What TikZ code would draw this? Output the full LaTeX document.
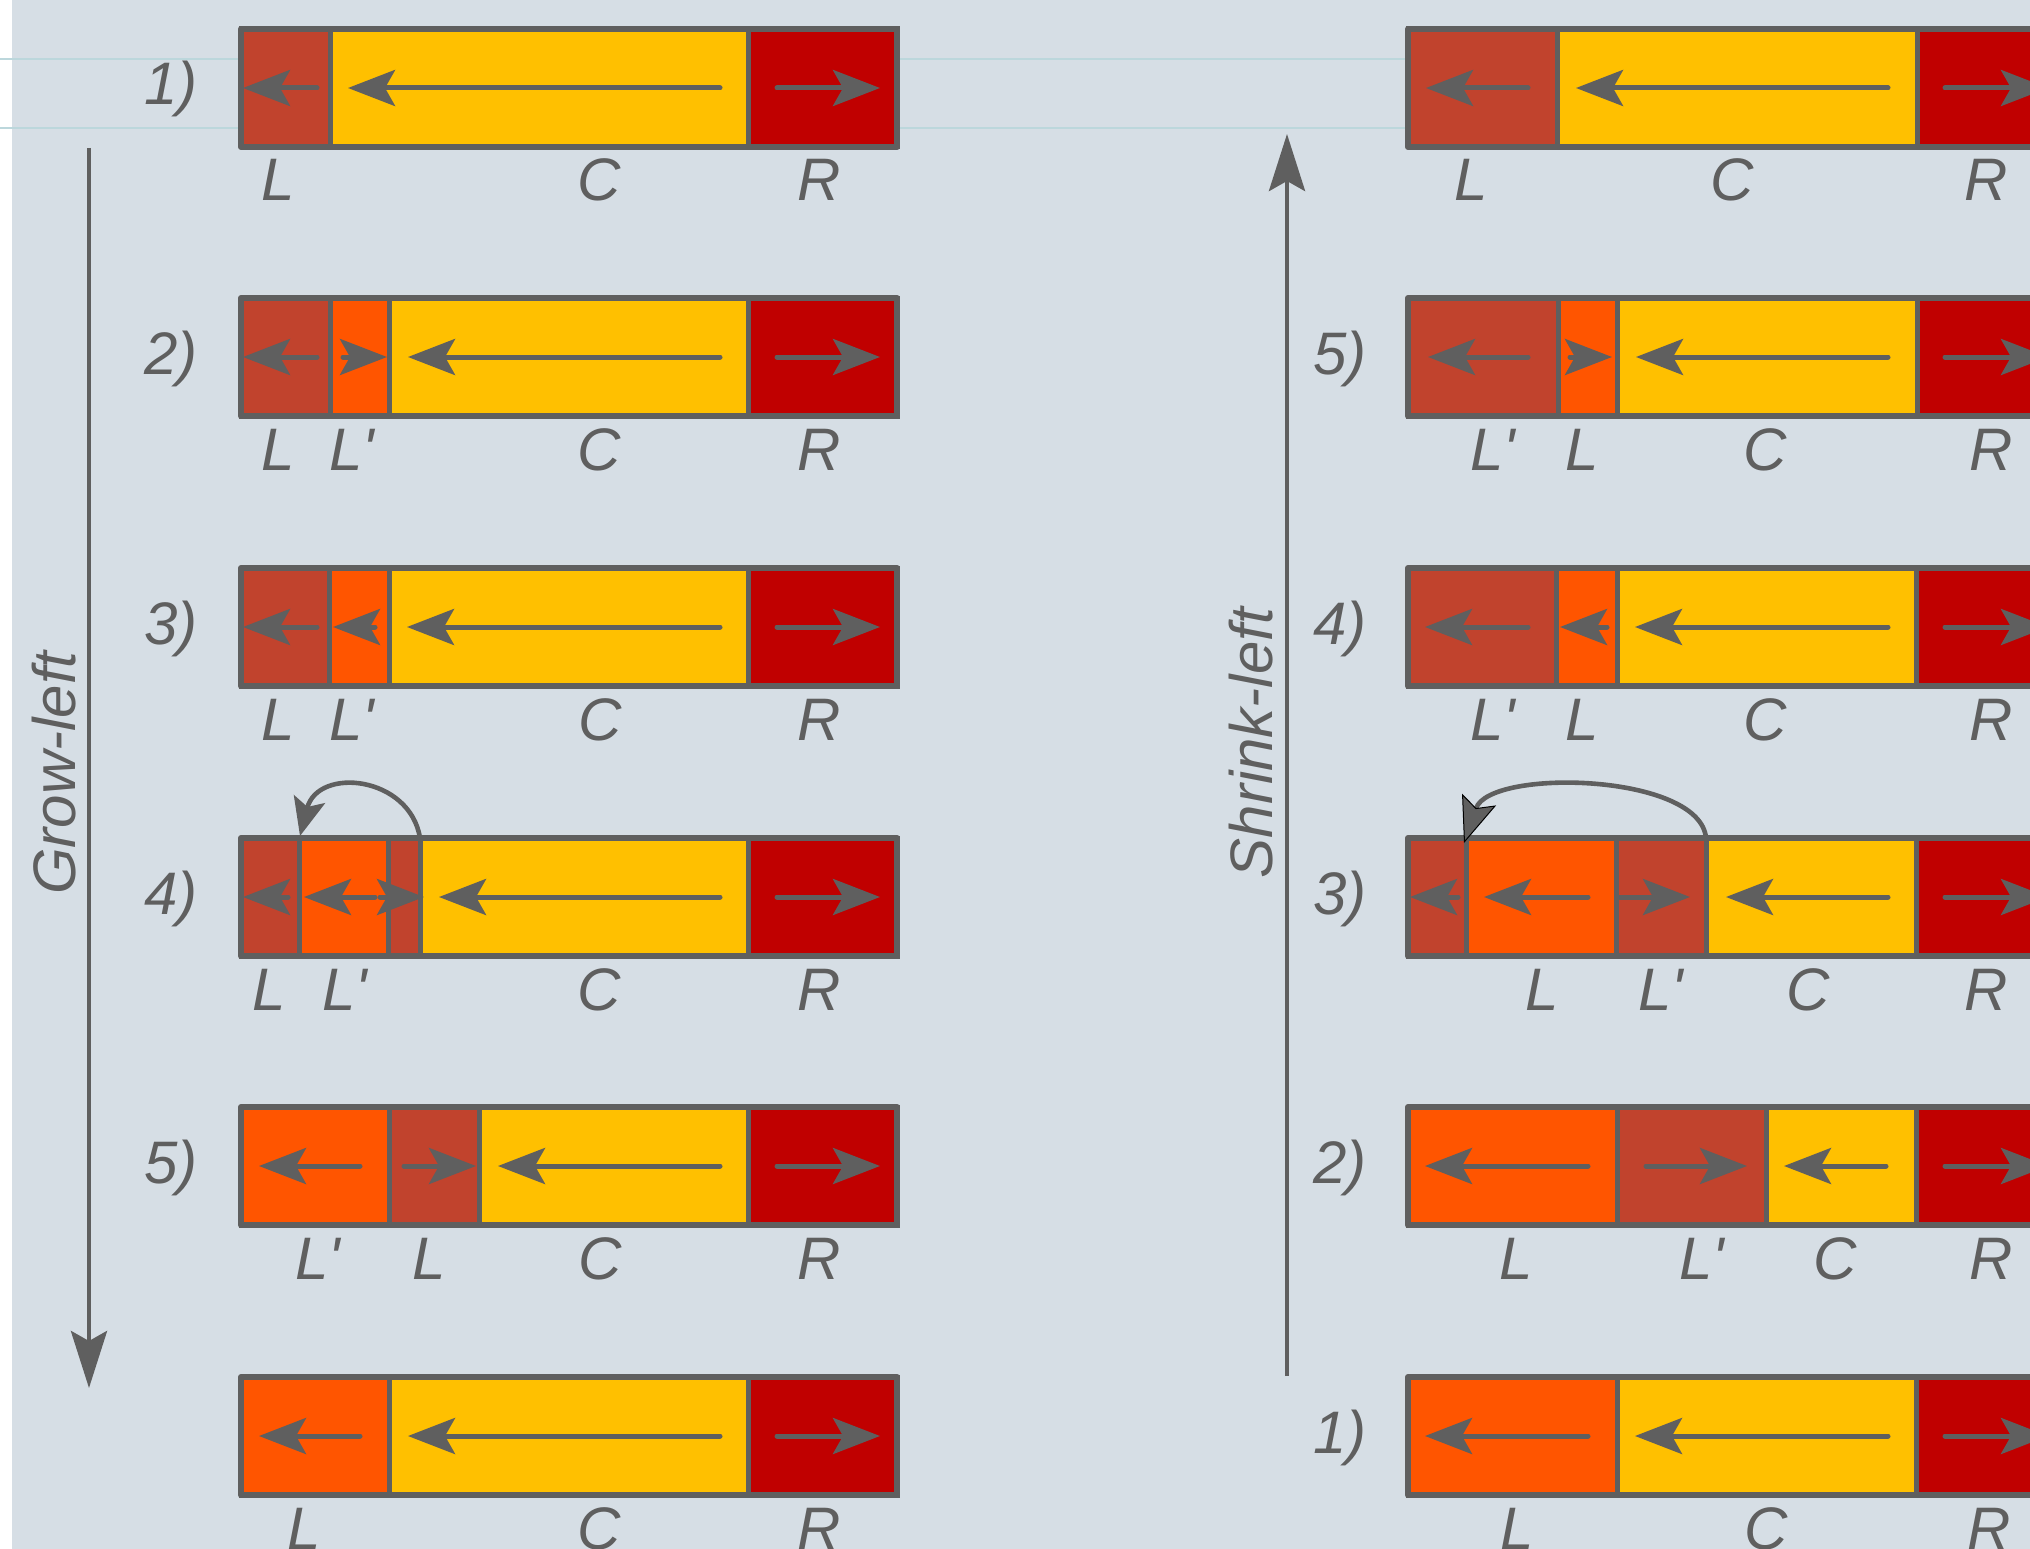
\documentclass[tikz,border=0pt]{standalone}
\usepackage{fontspec}
\setmainfont{Liberation Sans}
\usetikzlibrary{arrows.meta}
\definecolor{bgc}{HTML}{D6DEE5}
\definecolor{lg}{HTML}{5F5F5F}
\definecolor{cL}{HTML}{C1432D}
\definecolor{cO}{HTML}{FF5500}
\definecolor{cY}{HTML}{FFC000}
\definecolor{cR}{HTML}{C00000}
\definecolor{cyl}{HTML}{BCD7DC}
\tikzset{
  seg/.style={draw=lg, line width=5pt},
  outer/.style={draw=lg, line width=6pt, line join=round},
  harr/.style={draw=lg, line width=5pt, line cap=round, -{Stealth[length=47pt,width=36pt,inset=10pt]}},
  varr/.style={draw=lg, line width=4.5pt, -{Stealth[length=57pt,width=36pt,inset=10pt]}},
  lab/.style={text=lg, font=\fontsize{60}{72}\selectfont\itshape, anchor=base, inner sep=0pt},
  curvearr/.style={draw=lg, line width=4.6pt},
}
\newcommand{\frm}[3]{\draw[outer] (#1,#3-59) rectangle (#2,#3+59);}
\newcommand{\harrow}[3]{\draw[harr] (#1,#3) -- (#2,#3);}
\newcommand{\lbl}[4]{\node[lab] (#1) at (#2,#3+113) {#4};}
\newcommand{\num}[4]{\node[lab] (#1) at (#2,#3+17) {#4};}
\newcommand{\pr}{\textquotesingle}
\begin{document}
\begin{tikzpicture}[x=1pt,y=-1pt]
\useasboundingbox (0,0) rectangle (2030,1549);
\clip (0,0) rectangle (2030,1549);
\fill[bgc] (0,0) rectangle (2030,1549);
\fill[white] (0,0) rectangle (12,1549);
\draw[cyl, line width=2pt] (0,59) -- (2030,59);
\draw[cyl, line width=2pt] (0,128) -- (2030,128);

% vertical arrows
\coordinate (gA) at (89,148);
\coordinate (gB) at (89,1388);
\draw[varr] (gA) -- (gB);
\coordinate (sA) at (1287,1376);
\coordinate (sB) at (1287,134);
\draw[varr] (sA) -- (sB);
\node[lab, rotate=90] (grow) at (75,773) {Grow-left};
\node[lab, rotate=90] (shrink) at (1272,743) {Shrink-left};

% ---------------- left column ----------------
% row 1
\foreach \sa/\sb/\sc in {241/330/cL,330/748/cY,748/897/cR}{\filldraw[seg, fill=\sc] (\sa,29) rectangle (\sb,147);}
\frm{241}{897}{88}
\harrow{317}{243}{88}\harrow{720}{348}{88}\harrow{777}{880}{88}
\num{n1}{171}{88}{1)}
\lbl{a1}{278}{88}{L}\lbl{b1}{599}{88}{C}\lbl{c1}{819}{88}{R}

% row 2
\foreach \sa/\sb/\sc in {241/330/cL,330/389/cO,389/748/cY,748/897/cR}{\filldraw[seg, fill=\sc] (\sa,298) rectangle (\sb,416);}
\frm{241}{897}{357}
\harrow{317}{243}{357}\harrow{343}{387}{357}\harrow{720}{408}{357}\harrow{777}{880}{357}
\num{n2}{171}{357}{2)}
\lbl{a2}{278}{357}{L}\lbl{b2}{352}{357}{L\pr}\lbl{c2}{599}{357}{C}\lbl{d2}{819}{357}{R}

% row 3
\foreach \sa/\sb/\sc in {241/329/cL,329/389/cO,389/748/cY,748/897/cR}{\filldraw[seg, fill=\sc] (\sa,568) rectangle (\sb,686);}
\frm{241}{897}{627}
\harrow{317}{243}{627}\harrow{375}{333}{627}\harrow{720}{407}{627}\harrow{777}{880}{627}
\num{n3}{171}{627}{3)}
\lbl{a3}{278}{627}{L}\lbl{b3}{352}{627}{L\pr}\lbl{c3}{600}{627}{C}\lbl{d3}{819}{627}{R}

% row 4
\foreach \sa/\sb/\sc in {241/299/cL,299/388/cO,388/420/cL,420/748/cY,748/897/cR}{\filldraw[seg, fill=\sc] (\sa,838) rectangle (\sb,956);}
\frm{241}{897}{897}
\harrow{288}{243}{897}\harrow{375}{304}{897}\harrow{380}{424}{897}\harrow{720}{439}{897}\harrow{777}{880}{897}
\num{n4}{171}{897}{4)}
\lbl{a4}{269}{897}{L}\lbl{b4}{345}{897}{L\pr}\lbl{c4}{599}{897}{C}\lbl{d4}{819}{897}{R}
\coordinate (k1s) at (420,838);
\coordinate (k1e) at (300,836);
\draw[curvearr, -{Stealth[length=38pt,width=32pt,inset=8pt]}] (k1s) .. controls (410,776) and (318,766) .. (k1e);

% row 5
\foreach \sa/\sb/\sc in {241/389/cO,389/479/cL,479/748/cY,748/897/cR}{\filldraw[seg, fill=\sc] (\sa,1107) rectangle (\sb,1225);}
\frm{241}{897}{1166}
\harrow{360}{259}{1166}\harrow{404}{476}{1166}\harrow{720}{498}{1166}\harrow{777}{880}{1166}
\num{n5}{171}{1166}{5)}
\lbl{a5}{318}{1166}{L\pr}\lbl{b5}{429}{1166}{L}\lbl{c5}{600}{1166}{C}\lbl{d5}{819}{1166}{R}

% row 6
\foreach \sa/\sb/\sc in {241/389/cO,389/748/cY,748/897/cR}{\filldraw[seg, fill=\sc] (\sa,1377) rectangle (\sb,1495);}
\frm{241}{897}{1436}
\harrow{360}{259}{1436}\harrow{720}{408}{1436}\harrow{777}{880}{1436}
\lbl{a6}{304}{1436}{L}\lbl{b6}{599}{1436}{C}\lbl{c6}{819}{1436}{R}

% ---------------- right column ----------------
% row 1
\foreach \sa/\sb/\sc in {1408/1557/cL,1557/1917/cY,1917/2067/cR}{\filldraw[seg, fill=\sc] (\sa,29) rectangle (\sb,147);}
\frm{1408}{2067}{88}
\harrow{1528}{1426}{88}\harrow{1888}{1576}{88}\harrow{1945}{2048}{88}
\lbl{ra1}{1471}{88}{L}\lbl{rb1}{1732}{88}{C}\lbl{rc1}{1986}{88}{R}

% row 2
\foreach \sa/\sb/\sc in {1408/1558/cL,1558/1617/cO,1617/1917/cY,1917/2067/cR}{\filldraw[seg, fill=\sc] (\sa,298) rectangle (\sb,416);}
\frm{1408}{2067}{357}
\harrow{1528}{1428}{357}\harrow{1570}{1612}{357}\harrow{1888}{1636}{357}\harrow{1945}{2048}{357}
\num{rn2}{1340}{357}{5)}
\lbl{ra2}{1493}{357}{L\pr}\lbl{rb2}{1582}{357}{L}\lbl{rc2}{1765}{357}{C}\lbl{rd2}{1991}{357}{R}

% row 3
\foreach \sa/\sb/\sc in {1408/1556/cL,1556/1617/cO,1617/1916/cY,1916/2067/cR}{\filldraw[seg, fill=\sc] (\sa,568) rectangle (\sb,686);}
\frm{1408}{2067}{627}
\harrow{1528}{1425}{627}\harrow{1607}{1560}{627}\harrow{1888}{1635}{627}\harrow{1945}{2048}{627}
\num{rn3}{1340}{627}{4)}
\lbl{ra3}{1493}{627}{L\pr}\lbl{rb3}{1582}{627}{L}\lbl{rc3}{1765}{627}{C}\lbl{rd3}{1991}{627}{R}

% row 4
\foreach \sa/\sb/\sc in {1408/1466/cL,1466/1616/cO,1616/1706/cL,1706/1916/cY,1916/2067/cR}{\filldraw[seg, fill=\sc] (\sa,838) rectangle (\sb,956);}
\frm{1408}{2067}{897}
\harrow{1458}{1410}{897}\harrow{1588}{1484}{897}\harrow{1620}{1690}{897}\harrow{1888}{1726}{897}\harrow{1945}{2048}{897}
\num{rn4}{1340}{897}{3)}
\lbl{ra4}{1542}{897}{L}\lbl{rb4}{1661}{897}{L\pr}\lbl{rc4}{1808}{897}{C}\lbl{rd4}{1986}{897}{R}
\coordinate (k2s) at (1706,838);
\coordinate (k2e) at (1464,843);
\draw[curvearr, -{Stealth[length=46pt,width=36pt,inset=9pt,fill=lg,color=black,line width=1pt]}] (k2s) .. controls (1700,773) and (1490,768) .. (k2e);

% row 5
\foreach \sa/\sb/\sc in {1408/1617/cO,1617/1766/cL,1766/1916/cY,1916/2067/cR}{\filldraw[seg, fill=\sc] (\sa,1107) rectangle (\sb,1225);}
\frm{1408}{2067}{1166}
\harrow{1588}{1425}{1166}\harrow{1646}{1747}{1166}\harrow{1886}{1784}{1166}\harrow{1945}{2048}{1166}
\num{rn5}{1340}{1166}{2)}
\lbl{ra5}{1516}{1166}{L}\lbl{rb5}{1702}{1166}{L\pr}\lbl{rc5}{1835}{1166}{C}\lbl{rd5}{1991}{1166}{R}

% row 6
\foreach \sa/\sb/\sc in {1408/1617/cO,1617/1916/cY,1916/2067/cR}{\filldraw[seg, fill=\sc] (\sa,1377) rectangle (\sb,1495);}
\frm{1408}{2067}{1436}
\harrow{1588}{1425}{1436}\harrow{1888}{1635}{1436}\harrow{1945}{2048}{1436}
\num{rn6}{1340}{1436}{1)}
\lbl{ra6}{1517}{1436}{L}\lbl{rb6}{1766}{1436}{C}\lbl{rc6}{1989}{1436}{R}
\end{tikzpicture}
\end{document}
